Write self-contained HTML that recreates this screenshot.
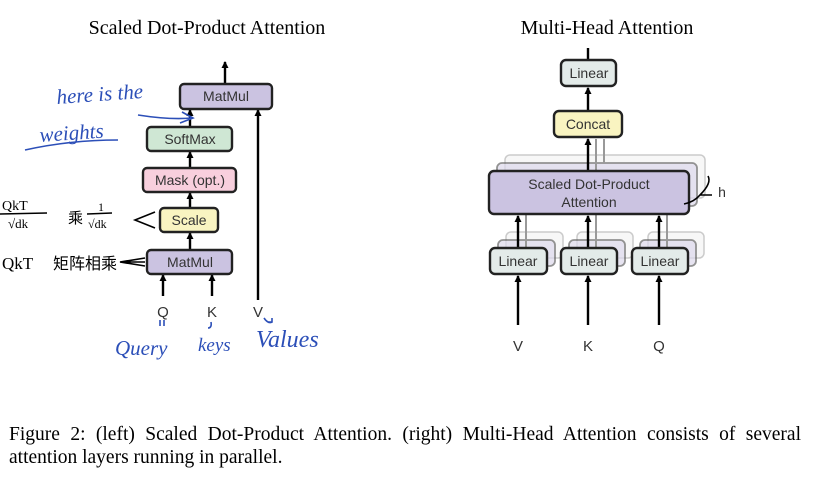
<!DOCTYPE html>
<html><head><meta charset="utf-8"><style>
body{margin:0;background:#fff;width:823px;height:490px;overflow:hidden}
svg{position:absolute;left:0;top:0}
.cap{position:absolute;left:9px;top:423px;width:792px;font-family:"Liberation Serif",serif;font-size:19.5px;line-height:23px;color:#000}
.j{display:block;text-align:justify;text-align-last:justify;white-space:nowrap;width:792px}
</style></head><body>
<svg width="823" height="490" viewBox="0 0 823 490" font-family="Liberation Sans, sans-serif">
<defs>
<marker id="a" markerUnits="userSpaceOnUse" markerWidth="7" markerHeight="7" refX="6" refY="3.5" orient="auto" viewBox="0 0 7 7"><path d="M0,0 L7,3.5 L0,7 Z" fill="#000"/></marker>
</defs>
<g font-family="Liberation Serif, serif" font-size="20" text-anchor="middle" fill="#000">
<text x="207" y="34">Scaled Dot-Product Attention</text>
<text x="607" y="34">Multi-Head Attention</text>
</g>
<!-- left -->
<g stroke="#000" stroke-width="2.4" fill="none">
<line x1="225" y1="83" x2="225" y2="62" marker-end="url(#a)"/>
<line x1="190" y1="127" x2="190" y2="110" marker-end="url(#a)"/>
<line x1="190" y1="168" x2="190" y2="152" marker-end="url(#a)"/>
<line x1="190" y1="208" x2="190" y2="193" marker-end="url(#a)"/>
<line x1="190" y1="250" x2="190" y2="233" marker-end="url(#a)"/>
<line x1="163" y1="296" x2="163" y2="275" marker-end="url(#a)"/>
<line x1="212" y1="296" x2="212" y2="275" marker-end="url(#a)"/>
<line x1="258" y1="300" x2="258" y2="110" marker-end="url(#a)"/>
</g>
<g stroke="#222" stroke-width="2.4">
<rect x="180" y="84" width="92" height="25" rx="4" fill="#cbc3e1"/>
<rect x="147" y="127" width="85" height="24" rx="4" fill="#cfe7d4"/>
<rect x="143" y="168" width="93" height="24" rx="4" fill="#f8cfdd"/>
<rect x="160" y="208" width="58" height="24" rx="4" fill="#f9f4c1"/>
<rect x="147" y="250" width="85" height="24" rx="4" fill="#cbc3e1"/>
</g>
<g font-size="14" text-anchor="middle" fill="#333">
<text x="226" y="101">MatMul</text>
<text x="190" y="144">SoftMax</text>
<text x="190" y="185">Mask (opt.)</text>
<text x="189" y="225">Scale</text>
<text x="190" y="267">MatMul</text>
<g font-size="15"><text x="163" y="317">Q</text><text x="212" y="317">K</text><text x="258" y="317">V</text></g>
</g>
<g fill="#2c4fb8" font-family="Liberation Serif, serif" font-style="italic" font-size="21">
<text x="57" y="104" transform="rotate(-4 57 104)">here is the</text>
<text x="40" y="142" transform="rotate(-4 40 142)">weights</text>
<text x="115" y="355">Query</text>
<text x="198" y="351" font-size="19">keys</text>
<text x="256" y="347" font-size="24">Values</text>
</g>
<g stroke="#2c4fb8" stroke-width="1.6" fill="none">
<path d="M25,150 Q70,140 118,140"/>
<path d="M138,115 Q170,120 192,118 M182,112 L193,118 L180,123"/>
<path d="M160,320 l0,6 M164,320 l0,6"/>
<path d="M211,322 q1,6 -3,6"/>
<path d="M264,318 q4,6 8,4 M268,322 l4,0 l0,-4"/>
</g>
<g fill="#000" font-family="Liberation Serif, Noto Sans CJK SC, serif">
<text x="2" y="210" font-size="14">QkT</text>
<line x1="0" y1="214" x2="47" y2="213" stroke="#000" stroke-width="1.5"/>
<text x="8" y="228" font-size="13">√dk</text>
<text x="68" y="223" font-size="15">乘</text>
<text x="98" y="211" font-size="12">1</text>
<line x1="87" y1="214" x2="112" y2="213" stroke="#000" stroke-width="1.5"/>
<text x="88" y="228" font-size="12">√dk</text>
<text x="2" y="269" font-size="17">QkT</text>
<text x="53" y="269" font-size="16">矩阵相乘</text>
</g>
<g stroke="#000" stroke-width="1.6" fill="none">
<path d="M155,212 L135,220 L155,228"/>
<path d="M145,258 L120,262 L145,266 M145,262 L120,262"/>
</g>
<!-- right -->
<g stroke="#000" stroke-width="2.4" fill="none">
<line x1="588" y1="60" x2="588" y2="48"/>
<line x1="588" y1="111" x2="588" y2="88" marker-end="url(#a)"/>
<line x1="518" y1="325" x2="518" y2="276" marker-end="url(#a)"/>
<line x1="588" y1="325" x2="588" y2="276" marker-end="url(#a)"/>
<line x1="659" y1="325" x2="659" y2="276" marker-end="url(#a)"/>
</g>
<g stroke="#999" stroke-width="1.5" fill="#f0f0f0" opacity="0.5">
<rect x="505" y="155" width="200" height="43" rx="5"/>
<rect x="506" y="232" width="57" height="26" rx="5"/><rect x="577" y="232" width="56" height="26" rx="5"/><rect x="648" y="232" width="56" height="26" rx="5"/>
</g>
<g stroke="#666" stroke-width="1.8" fill="#ddd9ec" opacity="0.7">
<rect x="497" y="163" width="200" height="43" rx="5"/>
<rect x="498" y="240" width="57" height="26" rx="5"/><rect x="569" y="240" width="56" height="26" rx="5"/><rect x="640" y="240" width="56" height="26" rx="5"/>
</g>
<g stroke="#999" stroke-width="2" fill="none">
<line x1="596" y1="171" x2="596" y2="139"/><line x1="604" y1="163" x2="604" y2="139"/>
<line x1="526" y1="248" x2="526" y2="214"/><line x1="596" y1="248" x2="596" y2="214"/><line x1="667" y1="248" x2="667" y2="214"/>
</g>
<g stroke="#000" stroke-width="2.4" fill="none">
<line x1="588" y1="171" x2="588" y2="139" marker-end="url(#a)"/>
<line x1="518" y1="248" x2="518" y2="216" marker-end="url(#a)"/>
<line x1="588" y1="248" x2="588" y2="216" marker-end="url(#a)"/>
<line x1="659" y1="248" x2="659" y2="216" marker-end="url(#a)"/>
</g>
<g stroke="#222" stroke-width="2.4">
<rect x="561" y="60" width="55" height="26" rx="5" fill="#e3ebe9"/>
<rect x="554" y="111" width="68" height="26" rx="5" fill="#f9f4c1"/>
<rect x="489" y="171" width="200" height="43" rx="5" fill="#cbc3e1"/>
<rect x="490" y="248" width="57" height="26" rx="5" fill="#e3ebe9"/>
<rect x="561" y="248" width="56" height="26" rx="5" fill="#e3ebe9"/>
<rect x="632" y="248" width="56" height="26" rx="5" fill="#e3ebe9"/>
</g>
<path d="M708,176 Q712,183 700,195 Q694,202 684,204 M700,195 L712,195" stroke="#000" stroke-width="1.6" fill="none"/>
<g font-size="14" text-anchor="middle" fill="#333">
<text x="589" y="78">Linear</text>
<text x="588" y="129">Concat</text>
<text x="589" y="189">Scaled Dot-Product</text>
<text x="589" y="207">Attention</text>
<text x="518" y="266">Linear</text><text x="589" y="266">Linear</text><text x="660" y="266">Linear</text>
<g font-size="15"><text x="518" y="351">V</text><text x="588" y="351">K</text><text x="659" y="351">Q</text></g>
<text x="722" y="197">h</text>
</g>
</svg>
<div class="cap"><span class="j">Figure 2: (left) Scaled Dot-Product Attention. (right) Multi-Head Attention consists of several</span>attention layers running in parallel.</div>
</body></html>
